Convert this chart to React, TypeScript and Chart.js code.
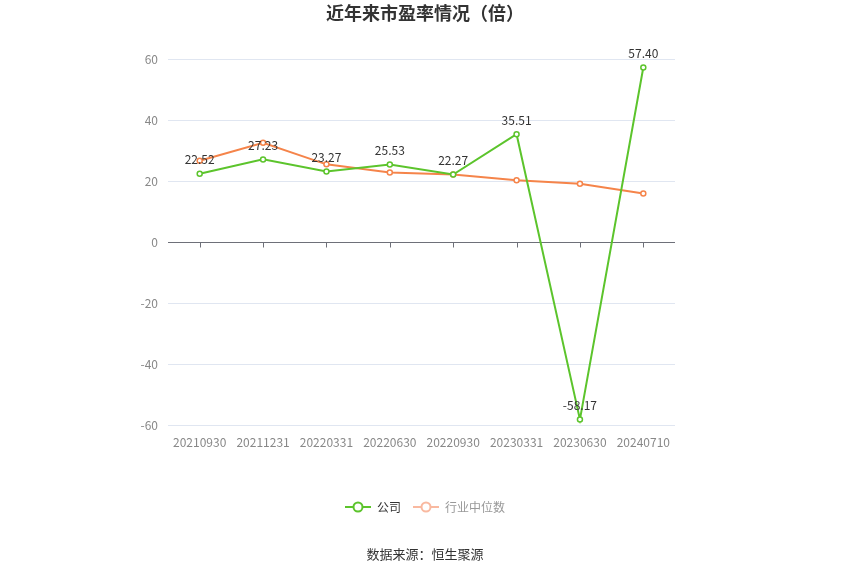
import React, { useEffect, useRef } from 'react';
import { Chart, registerables, Plugin } from 'chart.js';

Chart.register(...registerables);

// datos del gráfico
const categories = ['20210930', '20211231', '20220331', '20220630', '20220930', '20230331', '20230630', '20240710'];
const companyPE = [22.52, 27.23, 23.27, 25.53, 22.27, 35.51, -58.17, 57.4];
const industryPE = [26.8, 32.7, 25.6, 22.9, 22.3, 20.4, 19.2, 16.0];
const yMin = -60;
const yMax = 60;
const yStep = 20;

const GREEN = '#5cc42c';
const ORANGE = '#f5844a';
const FONT = '"Noto Sans CJK SC", "Noto Sans", sans-serif';

// icono de leyenda: línea con círculo hueco
const makeIcon = (color: string) => {
  const c = document.createElement('canvas');
  c.width = 26;
  c.height = 14;
  const ctx = c.getContext('2d')!;
  ctx.strokeStyle = color;
  ctx.lineWidth = 2;
  ctx.beginPath();
  ctx.moveTo(0, 7);
  ctx.lineTo(26, 7);
  ctx.stroke();
  ctx.fillStyle = '#fff';
  ctx.beginPath();
  ctx.arc(13, 7, 4.5, 0, Math.PI * 2);
  ctx.fill();
  ctx.stroke();
  return c;
};

const extrasPlugin: Plugin<'line'> = {
  id: 'extras',
  beforeDatasetsDraw(chart) {
    const { ctx, chartArea, scales } = chart;
    const y0 = Math.round(scales.y.getPixelForValue(0)) + 0.5;
    ctx.save();
    ctx.strokeStyle = '#6e7079';
    ctx.lineWidth = 1;
    ctx.beginPath();
    ctx.moveTo(chartArea.left, y0);
    ctx.lineTo(chartArea.right, y0);
    categories.forEach((_, i) => {
      const x = Math.round(scales.x.getPixelForValue(i)) + 0.5;
      ctx.moveTo(x, y0);
      ctx.lineTo(x, y0 + 5);
    });
    ctx.stroke();
    ctx.restore();
  },
  afterDatasetsDraw(chart) {
    const { ctx, scales } = chart;
    ctx.save();
    ctx.font = `12px ${FONT}`;
    ctx.fillStyle = '#333';
    ctx.textAlign = 'center';
    ctx.textBaseline = 'bottom';
    companyPE.forEach((v, i) => {
      const x = scales.x.getPixelForValue(i);
      const y = scales.y.getPixelForValue(v);
      ctx.fillText(v.toFixed(2), x, y - 8);
    });
    ctx.font = `13px ${FONT}`;
    ctx.textBaseline = 'middle';
    ctx.fillText('数据来源：恒生聚源', chart.width / 2, 554);
    ctx.restore();
  },
};

const PEChart: React.FC = () => {
  const canvasRef = useRef<HTMLCanvasElement>(null);

  useEffect(() => {
    if (!canvasRef.current) return;
    const icons = [makeIcon(GREEN), makeIcon('#f9b9a0')];
    const chart = new Chart(canvasRef.current, {
      type: 'line',
      data: {
        labels: categories,
        datasets: [
          {
            label: '公司',
            data: companyPE,
            borderColor: GREEN,
            backgroundColor: '#fff',
            borderWidth: 2,
            pointRadius: 2.5,
            pointBorderWidth: 1.5,
            pointBackgroundColor: '#fff',
            pointBorderColor: GREEN,
            tension: 0,
          },
          {
            label: '行业中位数',
            data: industryPE,
            borderColor: ORANGE,
            backgroundColor: '#fff',
            borderWidth: 2,
            pointRadius: 2.5,
            pointBorderWidth: 1.5,
            pointBackgroundColor: '#fff',
            pointBorderColor: ORANGE,
            tension: 0,
          },
        ],
      },
      options: {
        responsive: true,
        maintainAspectRatio: false,
        animation: false,
        layout: { padding: { left: 0, right: 0, top: 0, bottom: 52 } },
        plugins: {
          title: {
            display: true,
            text: '近年来市盈率情况（倍）',
            color: '#333',
            font: { family: FONT, size: 18, weight: 'bold' },
            padding: { top: 2, bottom: 36 },
          },
          legend: {
            position: 'bottom',
            labels: {
              usePointStyle: true,
              pointStyleWidth: 26,
              font: { family: FONT, size: 12 },
              padding: 12,
              generateLabels: () => [
                { text: '公司', pointStyle: icons[0], fontColor: '#333', datasetIndex: 0, lineWidth: 0 },
                { text: '行业中位数', pointStyle: icons[1], fontColor: '#999', datasetIndex: 1, lineWidth: 0 },
              ],
            },
          },
          tooltip: { enabled: false },
        },
        scales: {
          x: {
            offset: true,
            grid: { display: false },
            border: { display: false },
            ticks: { color: '#888', font: { family: FONT, size: 12 }, padding: 2, maxRotation: 0, autoSkip: false },
            afterFit: (s) => { s.height = 64; },
          },
          y: {
            min: yMin,
            max: yMax,
            ticks: { stepSize: yStep, color: '#888', font: { family: FONT, size: 12 }, padding: 10 },
            grid: {
              color: (c) => (c.tick && c.tick.value === 0 ? 'rgba(0,0,0,0)' : '#e0e6f1'),
              drawTicks: false,
            },
            border: { display: false },
            afterFit: (s) => { s.width = 168; },
          },
          // eje vacío a la derecha para reservar el margen
          yRight: {
            position: 'right',
            display: true,
            grid: { display: false },
            border: { display: false },
            ticks: { display: false },
            afterFit: (s) => { s.width = 175; },
          },
        },
      },
      plugins: [extrasPlugin],
    });
    return () => chart.destroy();
  }, []);

  return (
    <div style={{ position: 'absolute', left: 0, top: 0, width: 850, height: 575, background: '#fff' }}>
      <canvas ref={canvasRef}></canvas>
    </div>
  );
};

export default PEChart;
